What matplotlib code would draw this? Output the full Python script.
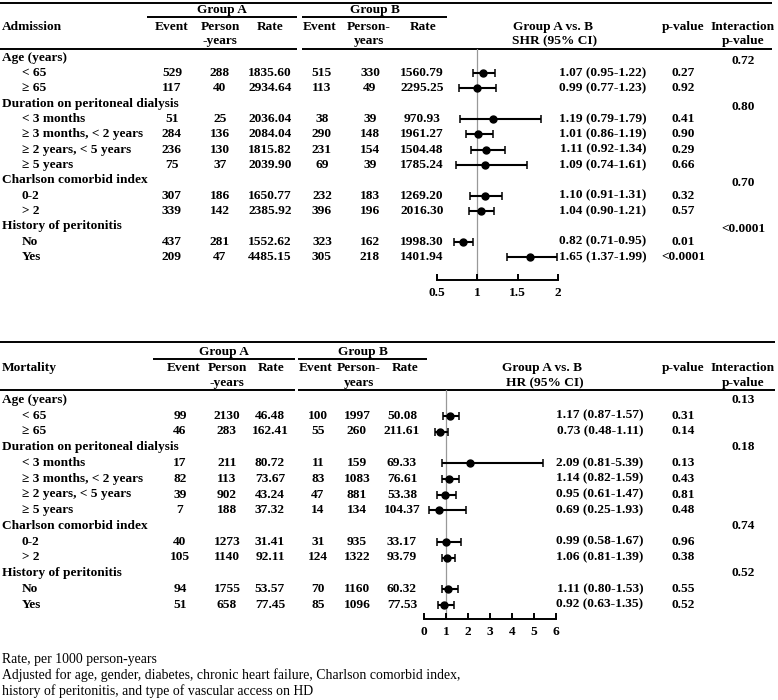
import matplotlib
matplotlib.use("Agg")
import matplotlib.pyplot as plt
import numpy as np

plt.rcParams['font.family'] = ['Liberation Serif', 'DejaVu Serif']

# ---------------- data ----------------
categories = ["Age (years)", "Duration on peritoneal dialysis", "Charlson comorbid index", "History of peritonitis"]
subgroups = [["< 65", "\u2265 65"],
             ["< 3 months", "\u2265 3 months, < 2 years", "\u2265 2 years, < 5 years", "\u2265 5 years"],
             ["0-2", "> 2"],
             ["No", "Yes"]]

# Admission panel
adm_event_a = [529, 117, 51, 284, 236, 75, 307, 339, 437, 209]
adm_py_a = [288, 40, 25, 136, 130, 37, 186, 142, 281, 47]
adm_rate_a = [1835.60, 2934.64, 2036.04, 2084.04, 1815.82, 2039.90, 1650.77, 2385.92, 1552.62, 4485.15]
adm_event_b = [515, 113, 38, 290, 231, 69, 232, 396, 323, 305]
adm_py_b = [330, 49, 39, 148, 154, 39, 183, 196, 162, 218]
adm_rate_b = [1560.79, 2295.25, 970.93, 1961.27, 1504.48, 1785.24, 1269.20, 2016.30, 1998.30, 1401.94]
adm_hr = [1.07, 0.99, 1.19, 1.01, 1.11, 1.09, 1.10, 1.04, 0.82, 1.65]
adm_lo = [0.95, 0.77, 0.79, 0.86, 0.92, 0.74, 0.91, 0.90, 0.71, 1.37]
adm_hi = [1.22, 1.23, 1.79, 1.19, 1.34, 1.61, 1.31, 1.21, 0.95, 1.99]
adm_p = ["0.27", "0.92", "0.41", "0.90", "0.29", "0.66", "0.32", "0.57", "0.01", "<0.0001"]
adm_pint = ["0.72", "0.80", "0.70", "<0.0001"]
adm_ticks = [0.5, 1, 1.5, 2]
adm_ticklabels = ["0.5", "1", "1.5", "2"]

# Mortality panel
mor_event_a = [99, 46, 17, 82, 39, 7, 40, 105, 94, 51]
mor_py_a = [2130, 283, 211, 113, 902, 188, 1273, 1140, 1755, 658]
mor_rate_a = [46.48, 162.41, 80.72, 73.67, 43.24, 37.32, 31.41, 92.11, 53.57, 77.45]
mor_event_b = [100, 55, 11, 83, 47, 14, 31, 124, 70, 85]
mor_py_b = [1997, 260, 159, 1083, 881, 134, 935, 1322, 1160, 1096]
mor_rate_b = [50.08, 211.61, 69.33, 76.61, 53.38, 104.37, 33.17, 93.79, 60.32, 77.53]
mor_hr = [1.17, 0.73, 2.09, 1.14, 0.95, 0.69, 0.99, 1.06, 1.11, 0.92]
mor_lo = [0.87, 0.48, 0.81, 0.82, 0.61, 0.25, 0.58, 0.81, 0.80, 0.63]
mor_hi = [1.57, 1.11, 5.39, 1.59, 1.47, 1.93, 1.67, 1.39, 1.53, 1.35]
mor_p = ["0.31", "0.14", "0.13", "0.43", "0.81", "0.48", "0.96", "0.38", "0.55", "0.52"]
mor_pint = ["0.13", "0.18", "0.74", "0.52"]
mor_ticks = [0, 1, 2, 3, 4, 5, 6]
mor_ticklabels = ["0", "1", "2", "3", "4", "5", "6"]

footnotes = ["Rate, per 1000 person-years",
             "Adjusted for age, gender, diabetes, chronic heart failure, Charlson comorbid index,",
             "history of peritonitis, and type of vascular access on HD"]

# ---------------- figure ----------------
W, H = 778, 700
fig = plt.figure(figsize=(W / 100, H / 100), dpi=100)
ax = fig.add_axes([0, 0, 1, 1])
ax.set_xlim(0, W)
ax.set_ylim(H, 0)
ax.axis("off")

FS = 9.6
LW = 1.4


def txt(x, y, s, ha="center", weight="bold", size=FS):
    ax.text(x, y, s, ha=ha, va="center", fontsize=size, fontweight=weight)


def hline(y, x0, x1, lw=LW):
    ax.plot([x0, x1], [y, y], color="black", lw=lw, solid_capstyle="butt")


def panel(title, measure, L, ev_a, py_a, rt_a, ev_b, py_b, rt_b, hr, lo, hi, p, pint, ticks, ticklabels):
    # lines
    hline(L["top"], 0, L["right"])
    hline(L["grp"], L["ga"][0], L["ga"][1])
    hline(L["grp"], L["gb"][0], L["gb"][1])
    hline(L["hdr"], 0, L["ga"][1])
    hline(L["hdr"], L["gb"][0], L["right"])
    # group headers
    txt((L["ga"][0] + L["ga"][1]) / 2, L["gy"], "Group A")
    txt((L["gb"][0] + L["gb"][1]) / 2, L["gy"], "Group B")
    y1, y2 = L["h1"], L["h2"]
    txt(2, y1, title, ha="left")
    c = L["cols"]
    txt(L["hcols"][0], y1, "Event")
    txt(L["hcols"][1], y1, "Person")
    txt(L["hcols"][1], y2, "-years")
    txt(L["hcols"][2], y1, "Rate")
    txt(L["hcols"][3], y1, "Event")
    txt(L["hcols"][4], y1, "Person-")
    txt(L["hcols"][4], y2, "years")
    txt(L["hcols"][5], y1, "Rate")
    txt(L["vs"][0], y1, "Group A vs. B")
    txt(L["vs"][1], y2, measure)
    txt(683, y1, "p-value")
    txt(743, y1, "Interaction")
    txt(743, y2, "p-value")

    # rows
    ys = []
    k = 0
    row = 0
    for ci, cat in enumerate(categories):
        yc = L["row0"] + row * L["dy"]
        txt(2, yc, cat, ha="left")
        txt(743, yc + L["pintoff"], pint[ci])
        row += 1
        for sg in subgroups[ci]:
            y = L["row0"] + row * L["dy"]
            ys.append(y)
            txt(22, y, sg, ha="left")
            txt(c[0], y, f"{ev_a[k]}")
            txt(c[1], y, f"{py_a[k]}")
            txt(c[2], y, f"{rt_a[k]:.2f}")
            txt(c[3], y, f"{ev_b[k]}")
            txt(c[4], y, f"{py_b[k]}")
            txt(c[5], y, f"{rt_b[k]:.2f}")
            txt(L["hrx"], y, f"{hr[k]:.2f} ({lo[k]:.2f}-{hi[k]:.2f})")
            txt(683, y, p[k])
            k += 1
            row += 1

    # forest axes
    fx0, fx1 = L["fx"]
    fy0, fy1 = L["fy"]
    fa = fig.add_axes([fx0 / W, 1 - fy1 / H, (fx1 - fx0) / W, (fy1 - fy0) / H])
    fa.set_xlim(ticks[0], ticks[-1])
    fa.set_ylim(fy1, fy0)
    fa.patch.set_alpha(0)
    for s in ["top", "left", "right"]:
        fa.spines[s].set_visible(False)
    fa.spines["bottom"].set_linewidth(LW)
    fa.set_yticks([])
    fa.set_xticks(ticks)
    fa.set_xticklabels(ticklabels, fontsize=FS, fontweight="bold")
    fa.tick_params(axis="x", direction="in", length=4, width=LW, pad=5)
    fa.axvline(1, color="#999999", lw=0.9, zorder=1)
    hr_a = np.array(hr)
    fa.errorbar(hr_a, ys, xerr=[hr_a - np.array(lo), np.array(hi) - hr_a], fmt="o",
                color="black", ms=5, capsize=3, elinewidth=1.5, capthick=1.1, zorder=3,
                clip_on=False)


adm_layout = dict(top=3, grp=17, hdr=49, right=772, ga=(147, 297), gb=(302, 447),
                  gy=10.5, h1=27, h2=41,
                  hcols=[172, 220, 270, 320, 369, 423],
                  cols=[172, 220, 270, 322, 370, 422],
                  vs=(553, 555), hrx=603, row0=57.5, dy=15.35, pintoff=3,
                  fx=(437, 558), fy=(49, 280))
mor_layout = dict(top=342, grp=359, hdr=390, right=775, ga=(153, 295), gb=(298, 427),
                  gy=351.5, h1=368, h2=383,
                  hcols=[184, 227, 271, 316, 359, 405],
                  cols=[180, 227, 270, 318, 357, 402],
                  vs=(542, 545), hrx=600, row0=400, dy=15.75, pintoff=0,
                  fx=(424, 556), fy=(390, 619))

panel("Admission", "SHR (95% CI)", adm_layout, adm_event_a, adm_py_a, adm_rate_a, adm_event_b, adm_py_b,
      adm_rate_b, adm_hr, adm_lo, adm_hi, adm_p, adm_pint, adm_ticks, adm_ticklabels)
panel("Mortality", "HR (95% CI)", mor_layout, mor_event_a, mor_py_a, mor_rate_a, mor_event_b, mor_py_b,
      mor_rate_b, mor_hr, mor_lo, mor_hi, mor_p, mor_pint, mor_ticks, mor_ticklabels)

for i, s in enumerate(footnotes):
    txt(2, 660 + i * 15.5, s, ha="left", weight="normal", size=9.9)

fig.savefig("out.png", dpi=100, facecolor="white")
